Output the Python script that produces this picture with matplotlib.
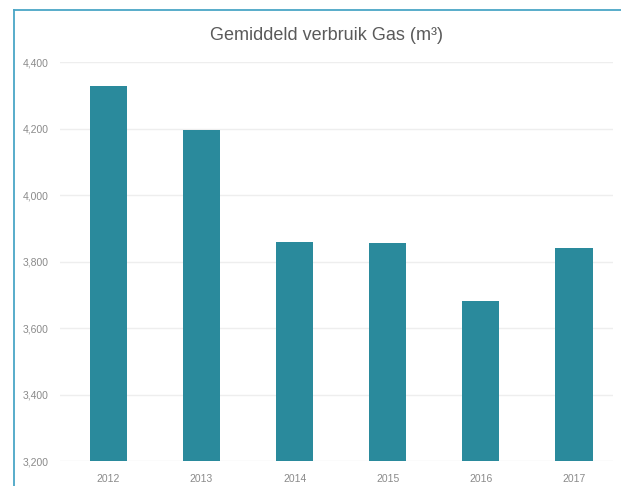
import matplotlib.pyplot as plt
from matplotlib.lines import Line2D

plt.rcParams["font.family"] = ["Liberation Sans", "DejaVu Sans"]

years = ["2012", "2013", "2014", "2015", "2016", "2017"]
verbruik = [4327, 4195, 3860, 3856, 3681, 3840]
y_ticks = [3200, 3400, 3600, 3800, 4000, 4200, 4400]

BAR_COLOR = "#2a8a9c"
W, H = 621, 486

fig = plt.figure(figsize=(W / 100, H / 100), dpi=100)
ax = fig.add_axes([60 / W, 1 - 461 / H, 553 / W, 399 / H])

x = list(range(len(years)))
ax.bar(x, verbruik, width=0.4, color=BAR_COLOR, zorder=2)

ax.set_ylim(3200, 4400)
ax.set_xlim(-0.52, 5.42)
ax.set_yticks(y_ticks)
ax.set_yticklabels([f"{v:,}" for v in y_ticks])
ax.set_xticks(x)
ax.set_xticklabels(years)
ax.tick_params(axis="both", length=0, labelsize=7.5, labelcolor="#8a8a8a")
ax.tick_params(axis="y", pad=8)
ax.tick_params(axis="x", pad=9)

ax.grid(axis="y", color="#eeeeee", linewidth=1.0, zorder=0)
for s in ax.spines.values():
    s.set_visible(False)

fig.text(326 / W, 1 - 36 / H, "Gemiddeld verbruik Gas (m³)",
         ha="center", va="center", fontsize=13, color="#5a5a5a")

# light blue frame on top and left
border = "#4aa6c6"
fig.add_artist(Line2D([14 / W, 1], [1 - 10 / H, 1 - 10 / H], color=border, linewidth=1.3,
                      transform=fig.transFigure))
fig.add_artist(Line2D([14 / W, 14 / W], [0, 1 - 10 / H], color=border, linewidth=1.3,
                      transform=fig.transFigure))

fig.savefig("out.png", dpi=100)
